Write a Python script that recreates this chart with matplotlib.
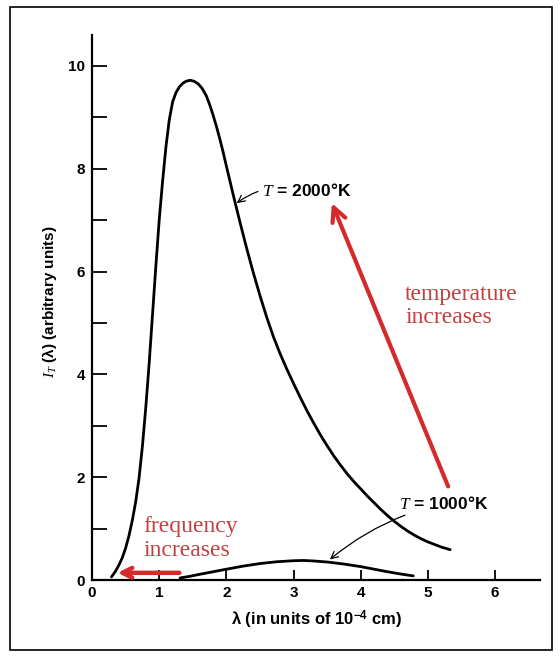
import matplotlib
matplotlib.use("Agg")
import matplotlib.pyplot as plt
from matplotlib.patches import Rectangle

plt.rcParams['mathtext.fontset'] = 'custom'
plt.rcParams['mathtext.rm'] = 'Liberation Sans'
plt.rcParams['mathtext.it'] = 'Liberation Serif:italic'
plt.rcParams['mathtext.bf'] = 'Liberation Sans:bold'

# ---- data ----
wl_2000 = [0.29, 0.35, 0.40, 0.45, 0.50, 0.55, 0.60, 0.65, 0.70, 0.75, 0.80, 0.85, 0.90,
           0.95, 1.00, 1.05, 1.10, 1.15, 1.20, 1.25, 1.30, 1.35, 1.40, 1.46, 1.52, 1.58,
           1.64, 1.70, 1.75, 1.80, 1.85, 1.90, 1.95, 2.00, 2.10, 2.20, 2.30, 2.40, 2.50,
           2.60, 2.70, 2.80, 2.90, 3.00, 3.10, 3.20, 3.30, 3.40, 3.50, 3.60, 3.70, 3.80,
           3.90, 4.00, 4.10, 4.20, 4.30, 4.40, 4.50, 4.60, 4.70, 4.80, 4.90, 5.00, 5.10,
           5.20, 5.33]
I_2000 = [0.06, 0.17, 0.29, 0.43, 0.62, 0.86, 1.16, 1.52, 1.98, 2.60, 3.35, 4.20, 5.15,
          6.10, 7.00, 7.75, 8.42, 8.95, 9.30, 9.48, 9.59, 9.66, 9.70, 9.72, 9.70, 9.65,
          9.56, 9.42, 9.25, 9.05, 8.83, 8.59, 8.33, 8.05, 7.50, 6.97, 6.46, 5.98, 5.53,
          5.11, 4.73, 4.40, 4.10, 3.82, 3.55, 3.29, 3.05, 2.82, 2.61, 2.41, 2.23, 2.06,
          1.91, 1.77, 1.63, 1.50, 1.37, 1.25, 1.14, 1.04, 0.95, 0.87, 0.80, 0.74, 0.69,
          0.64, 0.59]

wl_1000 = [1.31, 1.45, 1.60, 1.80, 2.00, 2.25, 2.50, 2.75, 3.00, 3.15, 3.30, 3.50,
           3.75, 4.00, 4.20, 4.40, 4.60, 4.78]
I_1000 = [0.04, 0.07, 0.11, 0.16, 0.21, 0.27, 0.32, 0.355, 0.375, 0.38, 0.37, 0.35,
          0.31, 0.26, 0.21, 0.16, 0.115, 0.08]

x_ticks = [0, 1, 2, 3, 4, 5, 6]
y_ticks = [0, 1, 2, 3, 4, 5, 6, 7, 8, 9, 10]
y_tick_labels = ['0', '', '2', '', '4', '', '6', '', '8', '', '10']

label_2000 = "$T$ = 2000°K"
label_1000 = "$T$ = 1000°K"

W, H = 559, 656
fig = plt.figure(figsize=(W / 100, H / 100), dpi=100)
ax = fig.add_axes([92 / W, (H - 580) / H, 448 / W, 545 / H])
ax.set_xlim(0, 6.667)
ax.set_ylim(0, 10.6)

ax.plot(wl_2000, I_2000, color='black', lw=2.0, solid_capstyle='round', solid_joinstyle='round')
ax.plot(wl_1000, I_1000, color='black', lw=2.0, solid_capstyle='round', solid_joinstyle='round')

for s in ['top', 'right']:
    ax.spines[s].set_visible(False)
for s in ['left', 'bottom']:
    ax.spines[s].set_linewidth(1.6)

tick_font = dict(family='Liberation Sans', weight='bold', size=11)
ax.set_xticks(x_ticks)
ax.set_xticklabels([str(v) for v in x_ticks], fontdict=tick_font)
ax.set_yticks(y_ticks)
ax.set_yticklabels(y_tick_labels, fontdict=tick_font)
ax.tick_params(axis='x', direction='in', length=7, width=1.3, pad=4)
ax.tick_params(axis='y', direction='in', length=11, width=1.3, pad=5)

ax.text(0.502, -0.073, "λ (in units of 10$^{\\mathbf{-4}}$ cm)", transform=ax.transAxes,
        ha='center', va='center', family='Liberation Sans', weight='bold', size=12)
ax.text(-0.094, 0.511, "$I_T$ (λ) (arbitrary units)", transform=ax.transAxes,
        ha='center', va='center', rotation=90, family='Liberation Sans', weight='bold', size=11)

# curve labels with leaders
ax.annotate(label_2000, xy=(2.153, 7.33), xytext=(2.53, 7.57),
            ha='left', va='center', family='Liberation Sans', weight='bold', size=12.5,
            arrowprops=dict(arrowstyle='->,head_length=0.4,head_width=0.2', color='black', lw=0.9,
                            connectionstyle='arc3,rad=0.25', shrinkA=1, shrinkB=0))
ax.annotate(label_1000, xy=(3.54, 0.40), xytext=(4.57, 1.49),
            ha='left', va='center', family='Liberation Sans', weight='bold', size=12.5,
            arrowprops=dict(arrowstyle='->,head_length=0.4,head_width=0.2', color='black', lw=0.9,
                            connectionstyle='arc3,rad=0.12', shrinkA=1, shrinkB=0))

# red annotations
red_arrow = '#d42a2a'
red_text = '#c2403f'
ax.annotate('', xy=(3.57, 7.33), xytext=(5.30, 1.82),
            arrowprops=dict(arrowstyle='->,head_length=1.0,head_width=0.5', color=red_arrow,
                            lw=3, shrinkA=0, shrinkB=0))
ax.annotate('', xy=(0.38, 0.14), xytext=(1.30, 0.14),
            arrowprops=dict(arrowstyle='->,head_length=0.7,head_width=0.35', color=red_arrow,
                            lw=3.2, shrinkA=0, shrinkB=0))
ax.text(4.66, 5.33, "temperature\nincreases", color=red_text, family='Liberation Serif',
        size=17, ha='left', va='center', linespacing=1.1)
ax.text(0.76, 0.81, "frequency\nincreases", color=red_text, family='Liberation Serif',
        size=17, ha='left', va='center', linespacing=1.15)

# outer frame
fig.add_artist(Rectangle((10 / W, 1 - 650 / H), 542 / W, 643 / H, transform=fig.transFigure,
                         fill=False, edgecolor='black', lw=1.2))

fig.savefig('out.png', dpi=100)
